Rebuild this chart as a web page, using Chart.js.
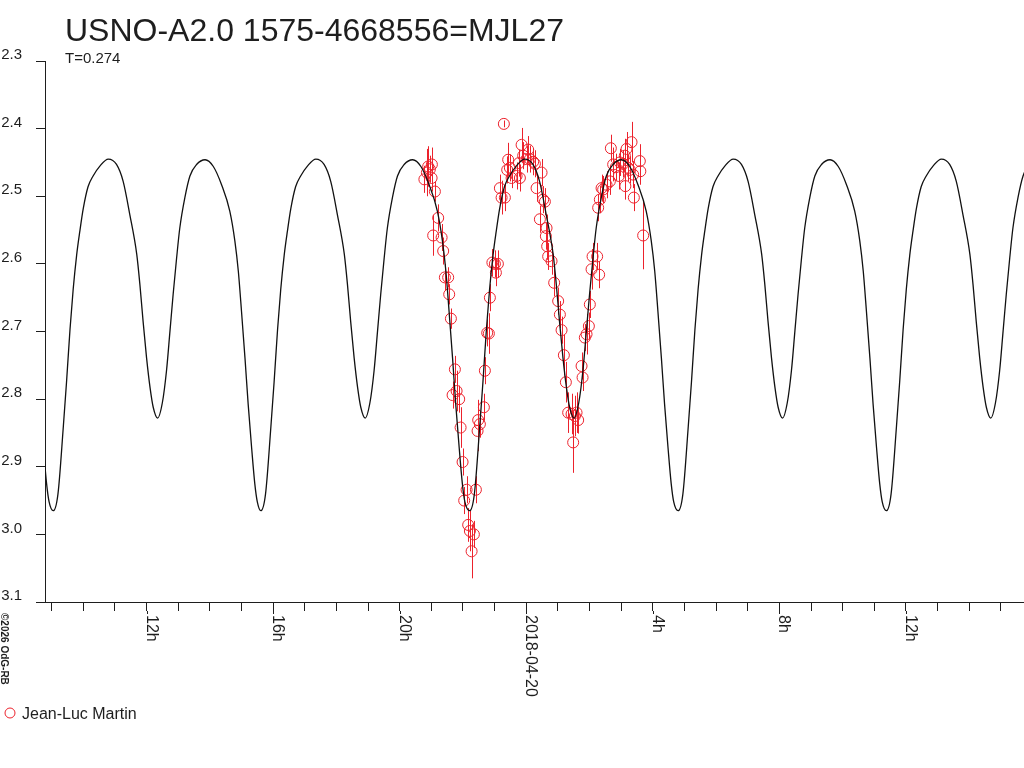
<!DOCTYPE html>
<html>
<head>
<meta charset="utf-8">
<script src="https://cdn.jsdelivr.net/npm/chart.js@4.4.1/dist/chart.umd.min.js"></script>
<style>
  html, body { margin: 0; padding: 0; background: #fff; }
  canvas { display: block; }
</style>
</head>
<body>
<canvas id="lightcurve" width="1024" height="768"></canvas>
<script>
// hours relative to 2018-04-20 00:00 UT
const xMin = -15.21
const xMax = 15.73
const xLabelHours = [-12, -8, -4, 0, 4, 8, 12]
const xLabelTexts = ['12h', '16h', '20h', '2018-04-20', '4h', '8h', '12h']

// model curve: one cycle, hours after primary minimum
const cycleHours = [0, 0.15, 0.32, 0.42, 0.53, 0.63, 0.74, 0.84, 0.95, 1.10, 1.26, 1.48, 1.74, 2.00, 2.21, 2.42, 2.64, 2.74, 2.84, 2.95, 3.06, 3.16, 3.30, 3.45, 3.58, 3.69, 3.79, 3.90, 4.00, 4.16, 4.32, 4.53, 4.80, 5.06, 5.32, 5.58, 5.74, 5.85, 5.95, 6.06, 6.16, 6.27, 6.37, 6.45]
const cycleMag = [2.965, 2.940, 2.840, 2.775, 2.697, 2.638, 2.587, 2.552, 2.518, 2.486, 2.470, 2.455, 2.445, 2.453, 2.478, 2.527, 2.586, 2.631, 2.685, 2.739, 2.783, 2.812, 2.828, 2.805, 2.758, 2.699, 2.645, 2.591, 2.547, 2.502, 2.470, 2.453, 2.446, 2.456, 2.483, 2.522, 2.566, 2.611, 2.670, 2.739, 2.807, 2.872, 2.925, 2.952]
// primary minima seen on the plot
const minimaHours = [-21.53, -14.95, -8.39, -1.79, 4.80, 11.38]

// Jean-Luc Martin observations
const obsHours = [-3.220, -3.141, -3.100, -3.046, -2.992, -2.983, -2.942, -2.888, -2.784, -2.676, -2.626, -2.572, -2.468, -2.436, -2.382, -2.329, -2.256, -2.202, -2.120, -2.076, -2.013, -1.962, -1.886, -1.836, -1.782, -1.728, -1.656, -1.592, -1.539, -1.520, -1.466, -1.340, -1.308, -1.235, -1.182, -1.150, -1.071, -0.992, -0.960, -0.897, -0.834, -0.780, -0.708, -0.676, -0.603, -0.572, -0.518, -0.464, -0.306, -0.234, -0.202, -0.148, -0.098, 0.009, 0.060, 0.114, 0.218, 0.272, 0.325, 0.430, 0.483, 0.534, 0.588, 0.619, 0.641, 0.660, 0.692, 0.799, 0.882, 1.008, 1.062, 1.115, 1.188, 1.251, 1.324, 1.431, 1.482, 1.536, 1.589, 1.640, 1.747, 1.779, 1.851, 1.905, 1.978, 2.009, 2.063, 2.095, 2.240, 2.272, 2.303, 2.325, 2.379, 2.430, 2.537, 2.641, 2.673, 2.746, 2.831, 2.926, 2.957, 3.062, 3.115, 3.131, 3.169, 3.220, 3.273, 3.327, 3.378, 3.400, 3.589, 3.605, 3.694]
const obsMag = [2.475, 2.465, 2.456, 2.460, 2.473, 2.453, 2.558, 2.493, 2.532, 2.561, 2.581, 2.620, 2.620, 2.645, 2.681, 2.794, 2.756, 2.788, 2.800, 2.842, 2.893, 2.950, 2.934, 2.986, 2.995, 3.025, 3.000, 2.934, 2.847, 2.831, 2.837, 2.812, 2.758, 2.702, 2.703, 2.650, 2.598, 2.600, 2.613, 2.600, 2.488, 2.502, 2.393, 2.502, 2.461, 2.446, 2.458, 2.473, 2.470, 2.451, 2.473, 2.424, 2.440, 2.445, 2.431, 2.445, 2.449, 2.452, 2.488, 2.534, 2.465, 2.505, 2.508, 2.559, 2.547, 2.574, 2.589, 2.596, 2.628, 2.655, 2.675, 2.698, 2.735, 2.775, 2.820, 2.822, 2.864, 2.825, 2.820, 2.831, 2.751, 2.768, 2.709, 2.704, 2.692, 2.660, 2.608, 2.589, 2.589, 2.517, 2.616, 2.505, 2.488, 2.490, 2.483, 2.478, 2.429, 2.453, 2.457, 2.470, 2.450, 2.452, 2.440, 2.485, 2.430, 2.458, 2.461, 2.420, 2.468, 2.502, 2.448, 2.463, 2.558]
const obsErr = [0.020, 0.035, 0.030, 0.020, 0.020, 0.025, 0.030, 0.015, 0.020, 0.020, 0.020, 0.020, 0.015, 0.015, 0.015, 0.020, 0.020, 0.030, 0.020, 0.030, 0.020, 0.020, 0.020, 0.025, 0.030, 0.040, 0.020, 0.020, 0.030, 0.030, 0.020, 0.020, 0.020, 0.020, 0.030, 0.020, 0.020, 0.020, 0.020, 0.020, 0.020, 0.025, 0.005, 0.020, 0.020, 0.025, 0.020, 0.015, 0.020, 0.020, 0.020, 0.025, 0.020, 0.020, 0.020, 0.020, 0.020, 0.020, 0.020, 0.020, 0.020, 0.020, 0.020, 0.020, 0.020, 0.020, 0.020, 0.020, 0.020, 0.020, 0.020, 0.020, 0.030, 0.030, 0.030, 0.030, 0.045, 0.030, 0.030, 0.020, 0.020, 0.020, 0.020, 0.030, 0.020, 0.020, 0.030, 0.020, 0.020, 0.020, 0.020, 0.020, 0.020, 0.020, 0.020, 0.020, 0.020, 0.025, 0.020, 0.020, 0.020, 0.020, 0.025, 0.020, 0.025, 0.020, 0.020, 0.030, 0.020, 0.020, 0.025, 0.020, 0.050]

const titleText = 'USNO-A2.0 1575-4668556=MJL27'
const periodText = 'T=0.274'
const observerName = 'Jean-Luc Martin'
const creditText = '\u00a92026 OdG-RB'

const inkColor = '#1e1e1e'
const curveColor = '#111111'
const obsColor = 'rgb(236, 34, 44)'
const fontFamily = '"Liberation Sans", Arial, sans-serif'

function buildCurve() {
  let points = []
  minimaHours.forEach(start => {
    cycleHours.forEach((h, i) => {
      points.push({ x: start + h, y: cycleMag[i] })
    })
  })
  return points
}

function buildObservations() {
  return obsHours.map((h, i) => ({ x: h, y: obsMag[i] }))
}

const errorBars = {
  id: 'errorBars',
  beforeDatasetDraw(chart, args) {
    if (args.index !== 1) return
    const ctx = chart.ctx
    const xs = chart.scales.x
    const ys = chart.scales.y
    const area = chart.chartArea
    ctx.save()
    ctx.beginPath()
    ctx.rect(area.left, area.top, area.right - area.left, area.bottom - area.top)
    ctx.clip()
    ctx.strokeStyle = obsColor
    ctx.lineWidth = 1
    ctx.beginPath()
    obsHours.forEach((h, i) => {
      const px = Math.round(xs.getPixelForValue(h)) + 0.5
      ctx.moveTo(px, ys.getPixelForValue(obsMag[i] - obsErr[i]))
      ctx.lineTo(px, ys.getPixelForValue(obsMag[i] + obsErr[i]))
    })
    ctx.stroke()
    ctx.restore()
  }
}

const decorations = {
  id: 'decorations',
  afterDraw(chart) {
    const ctx = chart.ctx
    const xs = chart.scales.x
    const axisY = chart.chartArea.bottom
    ctx.save()
    ctx.fillStyle = inkColor
    ctx.strokeStyle = inkColor
    ctx.lineWidth = 1

    // title and period
    ctx.textAlign = 'left'
    ctx.textBaseline = 'alphabetic'
    ctx.font = '32px ' + fontFamily
    ctx.fillText(titleText, 65, 41)
    ctx.font = '15px ' + fontFamily
    ctx.fillText(periodText, 65, 63)

    // longer ticks and rotated labels on the time axis
    xLabelHours.forEach((h, i) => {
      const px = Math.round(xs.getPixelForValue(h)) + 0.5
      ctx.beginPath()
      ctx.moveTo(px, axisY + 9)
      ctx.lineTo(px, axisY + 12)
      ctx.stroke()
      ctx.save()
      ctx.translate(px - 0.5, axisY + 13)
      ctx.rotate(Math.PI / 2)
      ctx.font = '16px ' + fontFamily
      ctx.textAlign = 'left'
      ctx.textBaseline = 'alphabetic'
      ctx.fillText(xLabelTexts[i], 0, 0)
      ctx.restore()
    })

    // credit
    ctx.save()
    ctx.translate(1, 613)
    ctx.rotate(Math.PI / 2)
    ctx.font = 'bold 10px "Liberation Sans Narrow", ' + fontFamily
    ctx.fillText(creditText, 0, 0)
    ctx.restore()

    // legend
    ctx.beginPath()
    ctx.strokeStyle = obsColor
    ctx.arc(10, 713, 5, 0, Math.PI * 2)
    ctx.stroke()
    ctx.font = '16px ' + fontFamily
    ctx.fillStyle = inkColor
    ctx.fillText(observerName, 22, 719)
    ctx.restore()
  }
}

const lightCurveConfig = {
  type: 'scatter',
  data: {
    datasets: [{
      label: 'model',
      data: buildCurve(),
      showLine: true,
      borderColor: curveColor,
      borderWidth: 1.3,
      pointRadius: 0,
      cubicInterpolationMode: 'monotone'
    },
    {
      label: observerName,
      data: buildObservations(),
      showLine: false,
      pointStyle: 'circle',
      pointRadius: 5.5,
      borderWidth: 1,
      borderColor: obsColor,
      backgroundColor: 'rgba(0,0,0,0)'
    }]
  },
  options: {
    responsive: false,
    animation: false,
    devicePixelRatio: 1,
    layout: {
      autoPadding: false,
      padding: { top: 61, right: 0, bottom: 0, left: 0 }
    },
    scales: {
      x: {
        type: 'linear',
        min: xMin,
        max: xMax,
        afterFit: (scale) => { scale.height = 166 },
        border: { display: true, color: inkColor, width: 1 },
        grid: {
          drawOnChartArea: false,
          drawTicks: true,
          tickLength: 9,
          color: inkColor
        },
        ticks: {
          display: false,
          stepSize: 1,
          includeBounds: false,
          maxTicksLimit: 100
        }
      },
      y: {
        type: 'linear',
        reverse: true,
        min: 2.3,
        max: 3.1,
        afterFit: (scale) => { scale.width = 45 },
        border: { display: true, color: inkColor, width: 1 },
        grid: {
          drawOnChartArea: false,
          drawTicks: true,
          tickLength: 9,
          color: inkColor
        },
        ticks: {
          stepSize: 0.1,
          padding: 14,
          labelOffset: -6,
          color: inkColor,
          font: { family: fontFamily, size: 15 },
          callback: function (value) {
            return value.toFixed(1)
          }
        }
      }
    },
    plugins: {
      legend: { display: false },
      tooltip: { enabled: false },
      title: { display: false }
    }
  },
  plugins: [errorBars, decorations]
}

const chartElement = document.getElementById('lightcurve').getContext('2d')
const lightCurveChart = new Chart(chartElement, lightCurveConfig)
</script>
</body>
</html>
